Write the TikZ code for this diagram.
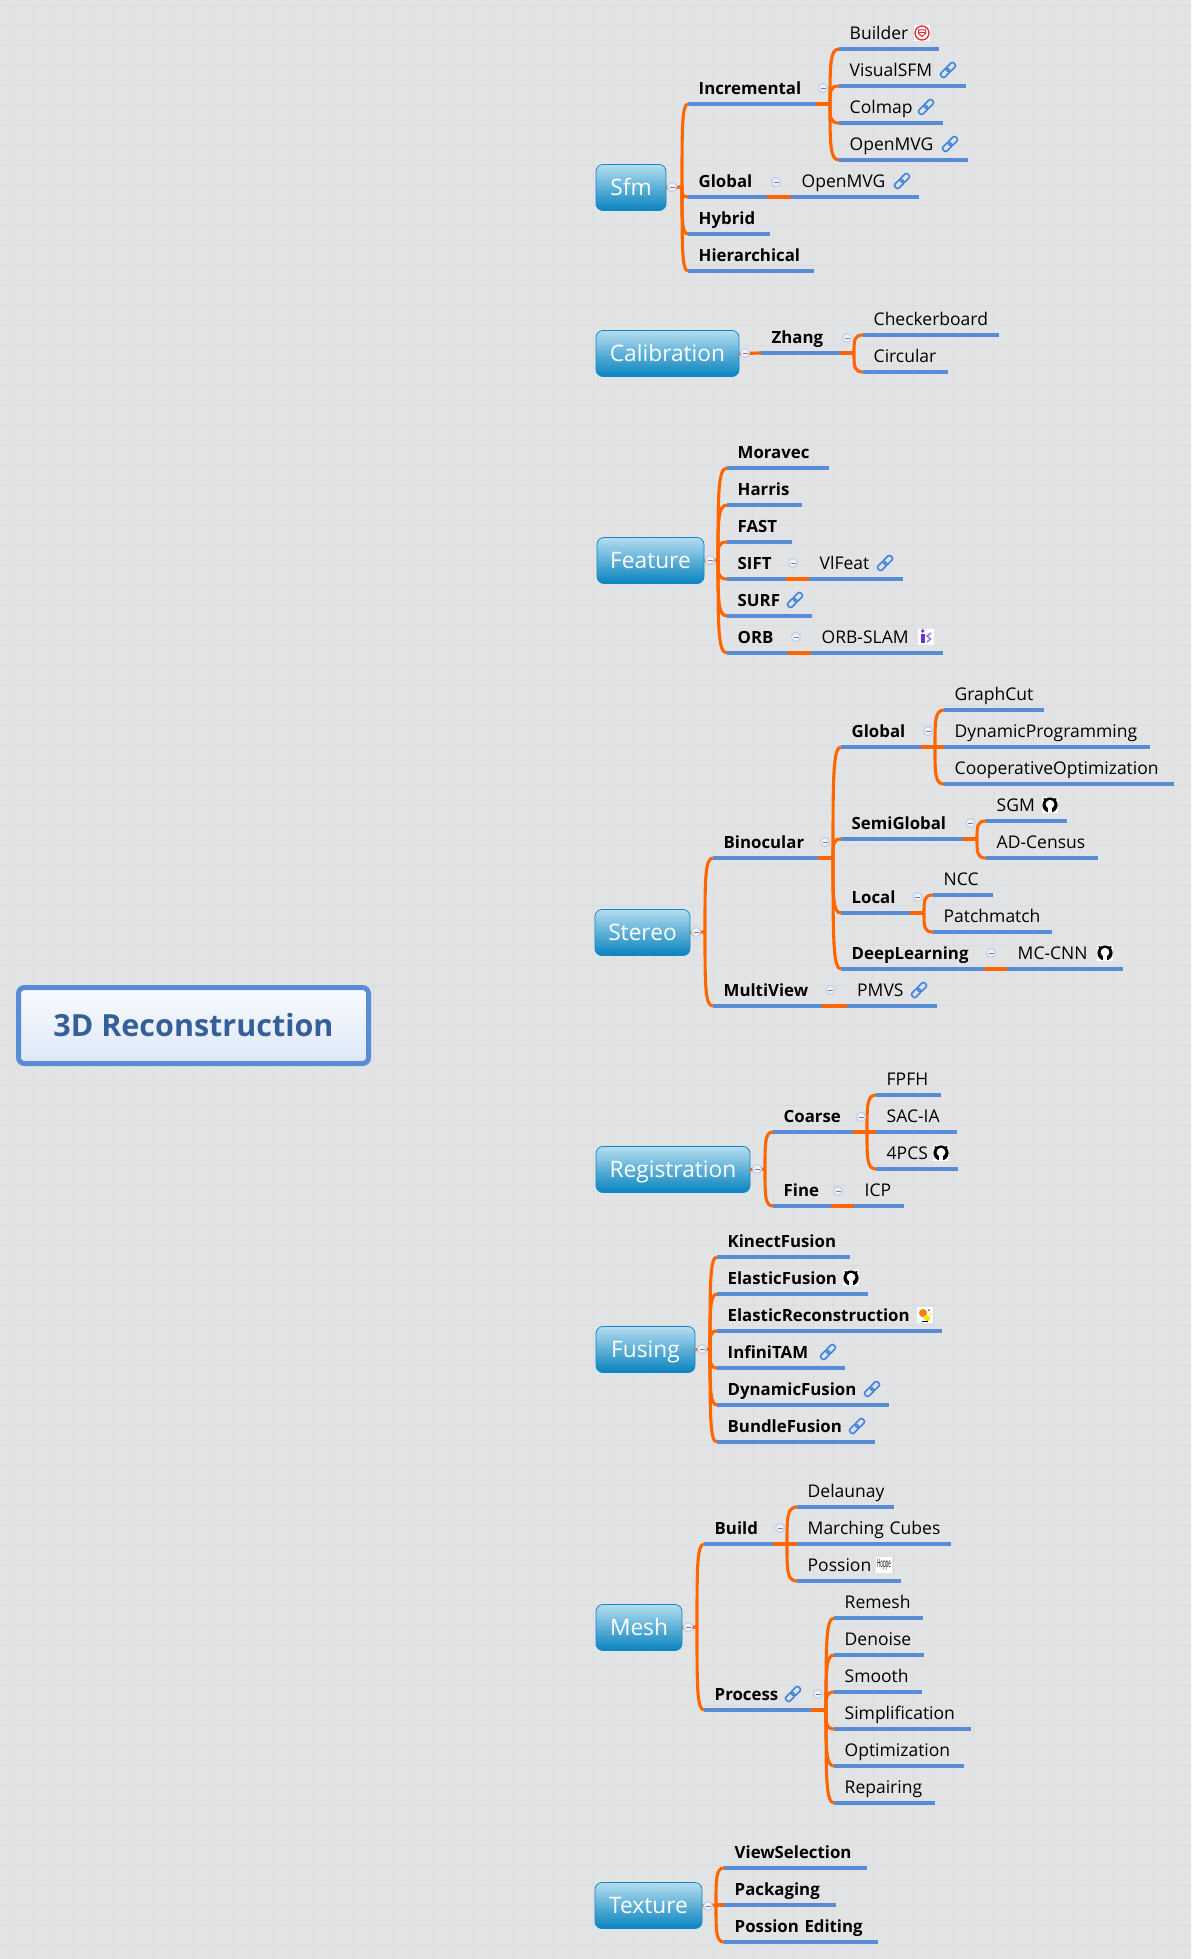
\documentclass[tikz,border=0pt]{standalone}
\usepackage{fontspec}
\usepackage{xcolor}
\usepackage{tikz}
\usetikzlibrary{positioning, calc}
\setmainfont{Open Sans}
\definecolor{paper}{RGB}{226,227,229}
\definecolor{weave}{RGB}{219,220,223}
\definecolor{rule}{RGB}{88,141,214}
\definecolor{branch}{RGB}{255,102,0}
\definecolor{rootink}{RGB}{52,95,153}
\definecolor{skytop}{RGB}{180,221,239}
\definecolor{skyend}{RGB}{8,131,191}
\definecolor{skyedge}{RGB}{17,136,196}
\definecolor{dotedge}{RGB}{190,202,236}
\definecolor{dotfill}{RGB}{238,241,250}
\definecolor{linkblue}{RGB}{62,132,224}
\definecolor{shieldred}{RGB}{232,40,48}
\definecolor{orbviolet}{RGB}{104,52,224}

\begin{document}
\begin{tikzpicture}[
  x=1pt, y=-1pt,
  root/.style={draw=rule, line width=5pt, rounded corners=6pt, top color=white!96!rule, bottom color=rule!20!white,
               text=rootink, font=\fontsize{30.5}{36}\selectfont\bfseries, minimum width=350pt, minimum height=76pt},
  topic/.style={draw=skyedge, line width=0.8pt, rounded corners=7pt, top color=skytop, bottom color=skyend,
                text=white, font=\fontsize{22.7}{28}\selectfont, minimum height=46pt, inner sep=0pt,
                text height=18.5pt, text depth=2pt},
  item/.style={inner sep=0pt, anchor=south west, align=left, text height=14pt, text depth=9.6pt,
               execute at begin node={\hspace*{10.5pt}},
               append after command={(\tikzlastnode.south west) edge[underline] (\tikzlastnode.south east)}},
  leaf/.style={item, text width=#1pt, font=\fontsize{17.5}{20}\selectfont},
  sub/.style={item, text width=#1pt, font=\fontsize{16.8}{20}\selectfont\bfseries},
  underline/.style={draw=rule, line width=3.1pt},
  stub/.style={draw=branch, line width=3.2pt},
  fork/.style={draw=branch, line width=3.1pt,
               to path={.. controls ($(\tikztostart)!0.72!(\tikztostart |- \tikztotarget)$) and (\tikztostart |- \tikztotarget) .. (\tikztotarget)}},
  collapse/.style={circle, draw=dotedge, fill=dotfill, line width=1pt, minimum size=9pt, inner sep=0pt,
                   path picture={\draw[black!50, line width=1pt] ([xshift=-2.5pt]path picture bounding box.center) -- ([xshift=2.5pt]path picture bounding box.center);}},
  chain/.pic={
    \begin{scope}[rotate=45, draw=linkblue, line width=1.6pt, rounded corners=2pt]
      \draw (-9pt,-2.8pt) rectangle (1pt,2.8pt);
      \draw (-1pt,-2.8pt) rectangle (9pt,2.8pt);
    \end{scope}},
  octo/.pic={
    \fill[white] (-8pt,-8pt) rectangle (8pt,8pt);
    \fill[black] (0pt,0pt) circle[radius=7.6pt];
    \fill[white] (0pt,0.8pt) circle[radius=4.4pt];
    \fill[white] (-1.8pt,-8pt) rectangle (1.8pt,-3pt);
    \fill[black] (-6.5pt,7pt) -- (-1.5pt,5.5pt) -- (-5.5pt,2pt) -- cycle;
    \fill[black] (6.5pt,7pt) -- (1.5pt,5.5pt) -- (5.5pt,2pt) -- cycle;},
  shield/.pic={
    \fill[white] (-8pt,-8pt) rectangle (8pt,8pt);
    \draw[shieldred, line width=1.3pt] (0pt,0pt) circle[radius=7pt];
    \draw[shieldred, line width=1pt] (-3.5pt,3pt) -- (3.5pt,3pt) -- (3.5pt,-0.5pt) -- (0pt,-3.5pt) -- (-3.5pt,-0.5pt) -- cycle;
    \draw[shieldred, line width=0.8pt] (-3.5pt,0.8pt) -- (3.5pt,0.8pt);},
  orbmark/.pic={
    \fill[white] (-8pt,-8pt) rectangle (8pt,8pt);
    \fill[orbviolet] (-5pt,-6pt) rectangle (-1.5pt,3.5pt);
    \fill[orbviolet] (-3.3pt,6pt) circle[radius=1.8pt];
    \draw[orbviolet!70, line width=1.5pt] (5pt,4pt) -- (1pt,1pt) -- (4.5pt,-2pt) -- (1pt,-5pt);},
  ermark/.pic={
    \fill[white] (-8pt,-8pt) rectangle (8pt,8pt);
    \fill[orange!80!brown] (-2pt,2pt) circle[radius=4pt];
    \fill[yellow!85!orange] (2pt,-3pt) circle[radius=3.2pt];
    \fill[black] (-3pt,-6.5pt) rectangle (3pt,-5.5pt);
    \fill[black!70] (4pt,5pt) circle[radius=1pt];
    \fill[yellow!85!orange] (5.5pt,1pt) circle[radius=1.2pt];},
  hoppe/.style={fill=white, minimum size=16pt, inner sep=0pt, font=\fontsize{8}{8}\selectfont}]
  \useasboundingbox (0,0) rectangle (1191,1959);
  \fill[paper] (0,0) rectangle (1191,1959);
  \begin{scope}[shift={(-7,5)}]
    \draw[weave, line width=0.3pt] (0,0) grid[step=20pt] (1200,1960);
    \draw[weave, line width=0.6pt] (0,0) grid[step=100pt] (1200,1960);
  \end{scope}

  \node[root] (recon) at (193.5,1025.5) {3D Reconstruction};

  % sfm
  \node[topic, minimum width=70pt] (sfm) at (631,187.5) {Sfm};
  \node[sub=128] (incr) at (688,104) {Incremental};
  \node[sub=79] (sfmglobal) at (688,197) {Global};
  \node[sub=82] (hybrid) at (688,234) {Hybrid};
  \node[sub=126] (hier) at (688,271) {Hierarchical};
  \node[leaf=100] (builder) at (839,49) {Builder};
  \node[leaf=127] (visualsfm) at (839,86) {VisualSFM};
  \node[leaf=104] (colmap) at (839,123) {Colmap};
  \node[leaf=129] (openmvga) at (839,160) {OpenMVG};
  \node[leaf=128] (openmvgb) at (791,197) {OpenMVG};
  \coordinate (sfmbus) at (682,187);
  \coordinate (incrbus) at (830,104);
  \draw[stub] (sfm.east) -- (sfmbus);
  \draw[fork] (sfmbus) to (incr.south west);
  \draw[fork] (sfmbus) to (sfmglobal.south west);
  \draw[fork] (sfmbus) to (hybrid.south west);
  \draw[fork] (sfmbus) to (hier.south west);
  \draw[stub] (incr.south east) -- (incrbus);
  \draw[fork] (incrbus) to (builder.south west);
  \draw[fork] (incrbus) to (visualsfm.south west);
  \draw[fork] (incrbus) to (colmap.south west);
  \draw[fork] (incrbus) to (openmvga.south west);
  \draw[stub] (sfmglobal.south east) -- (openmvgb.south west);
  \node[collapse] (sfmdot) at (672,187) {};
  \node[collapse] (incrdot) at (823,88) {};
  \node[collapse] (sfmglobaldot) at (776,182) {};
  \pic at (922,33) {shield};
  \pic at (948,70) {chain};
  \pic at (926,107) {chain};
  \pic at (950,144) {chain};
  \pic at (902,181) {chain};

  % calibration
  \node[topic, minimum width=143pt] (calib) at (667.5,353.5) {Calibration};
  \node[sub=79] (zhang) at (761,353) {Zhang};
  \node[leaf=136] (checker) at (863,335) {Checkerboard};
  \node[leaf=85] (circular) at (863,372) {Circular};
  \coordinate (zhangbus) at (854,353);
  \draw[stub] (calib.east) -- (zhang.south west);
  \draw[stub] (zhang.south east) -- (zhangbus);
  \draw[fork] (zhangbus) to (checker.south west);
  \draw[fork] (zhangbus) to (circular.south west);
  \node[collapse] (calibdot) at (745,353) {};
  \node[collapse] (zhangdot) at (847,338) {};

  % feature
  \node[topic, minimum width=107pt] (feature) at (650.5,560.5) {Feature};
  \node[sub=102] (moravec) at (727,468) {Moravec};
  \node[sub=75] (harris) at (727,505) {Harris};
  \node[sub=65] (fast) at (727,542) {FAST};
  \node[sub=59] (sift) at (727,579) {SIFT};
  \node[sub=85] (surf) at (727,616) {SURF};
  \node[sub=61] (orb) at (727,653) {ORB};
  \node[leaf=94] (vlfeat) at (809,579) {VlFeat};
  \node[leaf=132] (orbslam) at (811,653) {ORB-SLAM};
  \coordinate (featurebus) at (718,560);
  \draw[stub] (feature.east) -- (featurebus);
  \draw[fork] (featurebus) to (moravec.south west);
  \draw[fork] (featurebus) to (harris.south west);
  \draw[fork] (featurebus) to (fast.south west);
  \draw[fork] (featurebus) to (sift.south west);
  \draw[fork] (featurebus) to (surf.south west);
  \draw[fork] (featurebus) to (orb.south west);
  \draw[stub] (sift.south east) -- (vlfeat.south west);
  \draw[stub] (orb.south east) -- (orbslam.south west);
  \node[collapse] (featuredot) at (710,560) {};
  \node[collapse] (siftdot) at (793,563) {};
  \node[collapse] (orbdot) at (796,637) {};
  \pic at (885,563) {chain};
  \pic at (795,600) {chain};
  \pic at (926,637) {orbmark};

  % stereo
  \node[topic, minimum width=95pt] (stereo) at (642.5,932.5) {Stereo};
  \node[sub=105] (binocular) at (713,858) {Binocular};
  \node[sub=109] (multiview) at (713,1006) {MultiView};
  \node[leaf=90] (pmvs) at (846.5,1006) {PMVS};
  \node[sub=80] (stglobal) at (841,747) {Global};
  \node[sub=122] (semiglobal) at (841,839) {SemiGlobal};
  \node[sub=69] (local) at (841,913) {Local};
  \node[sub=143] (deeplearning) at (841,969) {DeepLearning};
  \node[leaf=100] (graphcut) at (944,710) {GraphCut};
  \node[leaf=206] (dynprog) at (944,747) {DynamicProgramming};
  \node[leaf=229.5] (coopopt) at (944,784) {CooperativeOptimization};
  \node[leaf=81] (sgm) at (986,821) {SGM};
  \node[leaf=112] (adcensus) at (986,858) {AD-Census};
  \node[leaf=60] (ncc) at (933,895) {NCC};
  \node[leaf=118.5] (patchmatch) at (933,932) {Patchmatch};
  \node[leaf=115.5] (mccnn) at (1007,969) {MC-CNN};
  \coordinate (stereobus) at (705,932);
  \coordinate (binocularbus) at (833,858);
  \coordinate (stglobalbus) at (935,747);
  \coordinate (semiglobalbus) at (977,839);
  \coordinate (localbus) at (924,913);
  \draw[stub] (stereo.east) -- (stereobus);
  \draw[fork] (stereobus) to (binocular.south west);
  \draw[fork] (stereobus) to (multiview.south west);
  \draw[stub] (multiview.south east) -- (pmvs.south west);
  \draw[stub] (binocular.south east) -- (binocularbus);
  \draw[fork] (binocularbus) to (stglobal.south west);
  \draw[fork] (binocularbus) to (semiglobal.south west);
  \draw[fork] (binocularbus) to (local.south west);
  \draw[fork] (binocularbus) to (deeplearning.south west);
  \draw[stub] (stglobal.south east) -- (stglobalbus);
  \draw[fork] (stglobalbus) to (graphcut.south west);
  \draw[fork] (stglobalbus) to (dynprog.south west);
  \draw[fork] (stglobalbus) to (coopopt.south west);
  \draw[stub] (semiglobal.south east) -- (semiglobalbus);
  \draw[fork] (semiglobalbus) to (sgm.south west);
  \draw[fork] (semiglobalbus) to (adcensus.south west);
  \draw[stub] (local.south east) -- (localbus);
  \draw[fork] (localbus) to (ncc.south west);
  \draw[fork] (localbus) to (patchmatch.south west);
  \draw[stub] (deeplearning.south east) -- (mccnn.south west);
  \node[collapse] (stereodot) at (696,932) {};
  \node[collapse] (binoculardot) at (825,842) {};
  \node[collapse] (multiviewdot) at (830.5,990) {};
  \node[collapse] (stglobaldot) at (928,731) {};
  \node[collapse] (semiglobaldot) at (970.5,823) {};
  \node[collapse] (localdot) at (917.5,897) {};
  \node[collapse] (deeplearningdot) at (991,953) {};
  \pic at (1050,805) {octo};
  \pic at (1105,953) {octo};
  \pic at (919,990) {chain};

  % registration
  \node[topic, minimum width=154pt] (regist) at (673,1169.5) {Registration};
  \node[sub=80] (coarse) at (773,1132) {Coarse};
  \node[sub=58] (fine) at (773,1206) {Fine};
  \node[leaf=50] (icp) at (854,1206) {ICP};
  \node[leaf=65] (fpfh) at (876,1095) {FPFH};
  \node[leaf=81] (sacia) at (876,1132) {SAC-IA};
  \node[leaf=82] (fourpcs) at (876,1169) {4PCS};
  \coordinate (registbus) at (765,1169);
  \coordinate (coarsebus) at (867,1132);
  \draw[stub] (regist.east) -- (registbus);
  \draw[fork] (registbus) to (coarse.south west);
  \draw[fork] (registbus) to (fine.south west);
  \draw[stub] (fine.south east) -- (icp.south west);
  \draw[stub] (coarse.south east) -- (coarsebus);
  \draw[fork] (coarsebus) to (fpfh.south west);
  \draw[fork] (coarsebus) to (sacia.south west);
  \draw[fork] (coarsebus) to (fourpcs.south west);
  \node[collapse] (registdot) at (757,1169) {};
  \node[collapse] (coarsedot) at (861,1117) {};
  \node[collapse] (finedot) at (838,1191) {};
  \pic at (941,1153) {octo};

  % fusing
  \node[topic, minimum width=99pt] (fusing) at (645.5,1349.5) {Fusing};
  \node[sub=133] (kinect) at (717,1257) {KinectFusion};
  \node[sub=151] (elastic) at (717,1294) {ElasticFusion};
  \node[sub=225] (elasticrec) at (717,1331) {ElasticReconstruction};
  \node[sub=128] (infini) at (717,1368) {InfiniTAM};
  \node[sub=172] (dynamic) at (717,1405) {DynamicFusion};
  \node[sub=158] (bundle) at (717,1442) {BundleFusion};
  \coordinate (fusingbus) at (710,1349);
  \draw[stub] (fusing.east) -- (fusingbus);
  \draw[fork] (fusingbus) to (kinect.south west);
  \draw[fork] (fusingbus) to (elastic.south west);
  \draw[fork] (fusingbus) to (elasticrec.south west);
  \draw[fork] (fusingbus) to (infini.south west);
  \draw[fork] (fusingbus) to (dynamic.south west);
  \draw[fork] (fusingbus) to (bundle.south west);
  \node[collapse] (fusingdot) at (702,1349) {};
  \pic at (851,1278) {octo};
  \pic at (925,1315) {ermark};
  \pic at (828,1352) {chain};
  \pic at (872,1389) {chain};
  \pic at (857,1426) {chain};

  % mesh
  \node[topic, minimum width=86pt] (mesh) at (639,1627.5) {Mesh};
  \node[sub=69] (build) at (704,1544) {Build};
  \node[sub=107] (process) at (704,1710) {Process};
  \node[leaf=97] (delaunay) at (797,1507) {Delaunay};
  \node[leaf=154] (marching) at (797,1544) {Marching Cubes};
  \node[leaf=104] (possion) at (797,1581) {Possion};
  \node[leaf=89] (remesh) at (834,1618) {Remesh};
  \node[leaf=90] (denoise) at (834,1655) {Denoise};
  \node[leaf=88] (smooth) at (834,1692) {Smooth};
  \node[leaf=137] (simplify) at (834,1729) {Simplification};
  \node[leaf=130] (optimize) at (834,1766) {Optimization};
  \node[leaf=101] (repair) at (834,1803) {Repairing};
  \coordinate (meshbus) at (697,1627);
  \coordinate (buildbus) at (787,1544);
  \coordinate (processbus) at (826,1710);
  \draw[stub] (mesh.east) -- (meshbus);
  \draw[fork] (meshbus) to (build.south west);
  \draw[fork] (meshbus) to (process.south west);
  \draw[stub] (build.south east) -- (buildbus);
  \draw[fork] (buildbus) to (delaunay.south west);
  \draw[fork] (buildbus) to (marching.south west);
  \draw[fork] (buildbus) to (possion.south west);
  \draw[stub] (process.south east) -- (processbus);
  \draw[fork] (processbus) to (remesh.south west);
  \draw[fork] (processbus) to (denoise.south west);
  \draw[fork] (processbus) to (smooth.south west);
  \draw[fork] (processbus) to (simplify.south west);
  \draw[fork] (processbus) to (optimize.south west);
  \draw[fork] (processbus) to (repair.south west);
  \node[collapse] (meshdot) at (688,1627) {};
  \node[collapse] (builddot) at (780,1528) {};
  \node[collapse] (processdot) at (818,1694) {};
  \node[hoppe] (hoppemark) at (884,1565) {\scalebox{0.55}[1.5]{Hoppe}};
  \pic at (793,1694) {chain};

  % texture
  \node[topic, minimum width=107pt] (texture) at (648.5,1905.5) {Texture};
  \node[sub=143] (viewsel) at (724,1868) {ViewSelection};
  \node[sub=112] (packaging) at (724,1905) {Packaging};
  \node[sub=154] (possedit) at (724,1942) {Possion Editing};
  \coordinate (texturebus) at (716,1905);
  \draw[stub] (texture.east) -- (texturebus);
  \draw[fork] (texturebus) to (viewsel.south west);
  \draw[fork] (texturebus) to (packaging.south west);
  \draw[fork] (texturebus) to (possedit.south west);
  \node[collapse] (texturedot) at (708,1906) {};
\end{tikzpicture}
\end{document}
